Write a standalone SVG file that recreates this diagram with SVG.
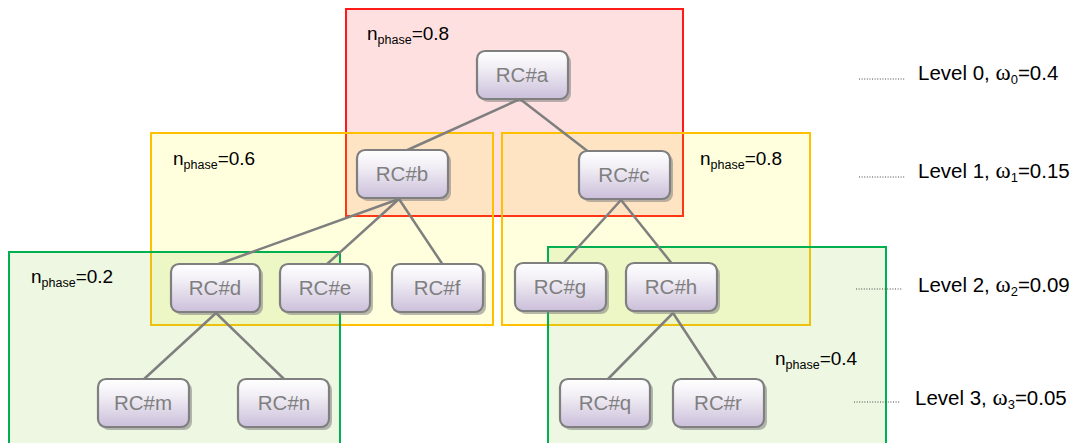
<svg xmlns="http://www.w3.org/2000/svg" width="1075" height="443" viewBox="0 0 1075 443">
<defs>
<linearGradient id="ng" x1="0" y1="0" x2="0" y2="1">
<stop offset="0" stop-color="#ffffff"/>
<stop offset="0.35" stop-color="#f1eef5"/>
<stop offset="1" stop-color="#cbbfda"/>
</linearGradient>
</defs>
<style>
.box{stroke-width:2}
.red{fill:#ff0000;fill-opacity:0.12;stroke:#ff1a1a}
.yel{fill:#ffff00;fill-opacity:0.13;stroke:#ffc000}
.grn{fill:#92d050;fill-opacity:0.17;stroke:#00b050}
.sh{fill:#7f7f7f;fill-opacity:0.55}
.nd{fill:url(#ng);stroke:#7f7f7f;stroke-width:2.2}
.nt{font-family:"Liberation Sans",Arial,sans-serif;font-size:20.5px;fill:#7f7f7f;text-anchor:middle}
.edge{stroke:#7f7f7f;stroke-width:2.5;fill:none}
.lbl{font-family:"Liberation Sans",Arial,sans-serif;font-size:19px;fill:#000}
.lvl{font-family:"Liberation Sans",Arial,sans-serif;font-size:20.5px;fill:#000}
.om{font-family:"Liberation Serif","Times New Roman",serif;font-size:23px}
.dot{stroke:#444;stroke-width:1;stroke-dasharray:1 1.6}
</style>
<g id="regions">
<rect class="box red" x="346" y="9" width="337" height="207"/>
<rect class="box yel" x="151" y="133" width="342" height="192"/>
<rect class="box yel" x="502" y="133" width="308" height="192"/>
<rect class="box grn" x="9" y="252" width="331" height="200"/>
<rect class="box grn" x="548" y="247" width="338" height="205"/>
</g>
<g id="connectors">
<line class="edge" x1="520" y1="99" x2="403" y2="152"/>
<line class="edge" x1="520" y1="99" x2="590" y2="153"/>
<line class="edge" x1="399" y1="199" x2="216" y2="265"/>
<line class="edge" x1="399" y1="199" x2="326" y2="265"/>
<line class="edge" x1="399" y1="199" x2="443" y2="265"/>
<line class="edge" x1="621" y1="200" x2="562" y2="265"/>
<line class="edge" x1="621" y1="200" x2="673" y2="265"/>
<line class="edge" x1="216" y1="313" x2="143" y2="380"/>
<line class="edge" x1="216" y1="313" x2="285" y2="380"/>
<line class="edge" x1="673" y1="313" x2="607" y2="380"/>
<line class="edge" x1="673" y1="313" x2="717" y2="380"/>
</g>
<g id="node-a"><rect class="sh" x="480" y="54" width="91" height="48" rx="8"/><rect class="nd" x="477" y="51" width="91" height="48" rx="8"/><text class="nt" x="522" y="82">RC#a</text></g>
<g id="node-b"><rect class="sh" x="360" y="153" width="91" height="48" rx="8"/><rect class="nd" x="357" y="150" width="91" height="48" rx="8"/><text class="nt" x="402" y="181">RC#b</text></g>
<g id="node-c"><rect class="sh" x="582" y="154" width="91" height="48" rx="8"/><rect class="nd" x="579" y="151" width="91" height="48" rx="8"/><text class="nt" x="624" y="182">RC#c</text></g>
<g id="node-d"><rect class="sh" x="174" y="267" width="89" height="48" rx="8"/><rect class="nd" x="171" y="264" width="89" height="48" rx="8"/><text class="nt" x="215" y="295">RC#d</text></g>
<g id="node-e"><rect class="sh" x="283" y="267" width="90" height="48" rx="8"/><rect class="nd" x="280" y="264" width="90" height="48" rx="8"/><text class="nt" x="325" y="295">RC#e</text></g>
<g id="node-f"><rect class="sh" x="395" y="267" width="91" height="48" rx="8"/><rect class="nd" x="392" y="264" width="91" height="48" rx="8"/><text class="nt" x="437" y="295">RC#f</text></g>
<g id="node-g"><rect class="sh" x="518" y="266" width="91" height="48" rx="8"/><rect class="nd" x="515" y="263" width="91" height="48" rx="8"/><text class="nt" x="560" y="294">RC#g</text></g>
<g id="node-h"><rect class="sh" x="629" y="266" width="91" height="48" rx="8"/><rect class="nd" x="626" y="263" width="91" height="48" rx="8"/><text class="nt" x="671" y="294">RC#h</text></g>
<g id="node-m"><rect class="sh" x="101" y="382" width="91" height="48" rx="8"/><rect class="nd" x="98" y="379" width="91" height="48" rx="8"/><text class="nt" x="143" y="410">RC#m</text></g>
<g id="node-n"><rect class="sh" x="241" y="382" width="91" height="48" rx="8"/><rect class="nd" x="238" y="379" width="91" height="48" rx="8"/><text class="nt" x="284" y="410">RC#n</text></g>
<g id="node-q"><rect class="sh" x="563" y="382" width="90" height="48" rx="8"/><rect class="nd" x="560" y="379" width="90" height="48" rx="8"/><text class="nt" x="605" y="410">RC#q</text></g>
<g id="node-r"><rect class="sh" x="676" y="382" width="91" height="48" rx="8"/><rect class="nd" x="673" y="379" width="91" height="48" rx="8"/><text class="nt" x="718" y="410">RC#r</text></g>
<g id="labels">
<text class="lbl" x="367" y="40">n<tspan font-size="12.5" dy="4">phase</tspan><tspan dy="-4">=0.8</tspan></text>
<text class="lbl" x="173" y="165">n<tspan font-size="12.5" dy="4">phase</tspan><tspan dy="-4">=0.6</tspan></text>
<text class="lbl" x="700" y="165">n<tspan font-size="12.5" dy="4">phase</tspan><tspan dy="-4">=0.8</tspan></text>
<text class="lbl" x="31" y="283">n<tspan font-size="12.5" dy="4">phase</tspan><tspan dy="-4">=0.2</tspan></text>
<text class="lbl" x="775" y="365">n<tspan font-size="12.5" dy="4">phase</tspan><tspan dy="-4">=0.4</tspan></text>
</g>
<g id="levels">
<line class="dot" x1="859" y1="79" x2="905" y2="79"/>
<line class="dot" x1="859" y1="177" x2="905" y2="177"/>
<line class="dot" x1="856" y1="289" x2="902" y2="289"/>
<line class="dot" x1="854" y1="402" x2="900" y2="402"/>
<text class="lvl" x="918" y="80">Level 0, <tspan class="om">ω</tspan><tspan font-size="13" dy="4">0</tspan><tspan dy="-4">=0.4</tspan></text>
<text class="lvl" x="918" y="178">Level 1, <tspan class="om">ω</tspan><tspan font-size="13" dy="4">1</tspan><tspan dy="-4">=0.15</tspan></text>
<text class="lvl" x="918" y="292">Level 2, <tspan class="om">ω</tspan><tspan font-size="13" dy="4">2</tspan><tspan dy="-4">=0.09</tspan></text>
<text class="lvl" x="915" y="405">Level 3, <tspan class="om">ω</tspan><tspan font-size="13" dy="4">3</tspan><tspan dy="-4">=0.05</tspan></text>
</g>
</svg>
